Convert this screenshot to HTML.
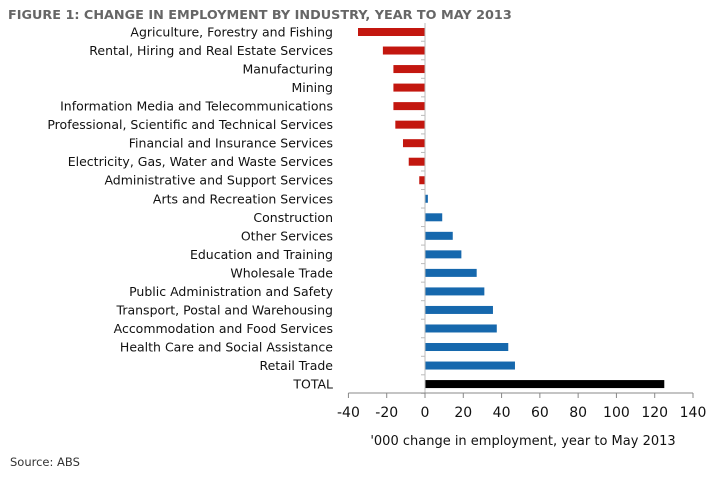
<!DOCTYPE html>
<html><head><meta charset="utf-8"><style>
body{margin:0;background:#fff;width:719px;height:478px;overflow:hidden}
svg{font-family:"DejaVu Sans","Liberation Sans",sans-serif}
</style></head><body>
<svg width="719" height="478">
<text x="8" y="19" font-size="12.8" font-weight="bold" fill="#666">FIGURE 1: CHANGE IN EMPLOYMENT BY INDUSTRY, YEAR TO MAY 2013</text>
<g id="bars"></g><g id="axis"></g>
<text x="523" y="445" font-size="13" text-anchor="middle" fill="#111">'000 change in employment, year to May 2013</text>
<text x="10" y="466" font-size="11.5" fill="#333">Source: ABS</text>
</svg>
<script>
const categories=["Agriculture, Forestry and Fishing","Rental, Hiring and Real Estate Services","Manufacturing","Mining","Information Media and Telecommunications","Professional, Scientific and Technical Services","Financial and Insurance Services","Electricity, Gas, Water and Waste Services","Administrative and Support Services","Arts and Recreation Services","Construction","Other Services","Education and Training","Wholesale Trade","Public Administration and Safety","Transport, Postal and Warehousing","Accommodation and Food Services","Health Care and Social Assistance","Retail Trade","TOTAL"];
const values=[-35,-22,-16.5,-16.5,-16.5,-15.5,-11.5,-8.5,-3,1.5,9,14.5,19,27,31,35.5,37.5,43.5,47,125];
const ticks=[-40,-20,0,20,40,60,80,100,120,140];
const NS="http://www.w3.org/2000/svg";
const x=v=>425+(v)*268/140;
const y=i=>32+i*18.53;
const bars=document.getElementById('bars'),axis=document.getElementById('axis');
function mk(tag,a,p){const e=document.createElementNS(NS,tag);for(const k in a)e.setAttribute(k,a[k]);p.appendChild(e);return e;}
categories.forEach((c,i)=>{
  const v=values[i];
  const col=i===categories.length-1?'#000':(v<0?'#c3170f':'#1668ad');
  const r=mk('rect',{x:Math.min(x(0),x(v)),y:y(i)-4,width:Math.abs(x(v)-x(0)),height:8,fill:col},bars);
  
  
  const t=mk('text',{x:333,y:y(i)+4.5,'font-size':'12.5','text-anchor':'end',fill:'#111'},bars);
  t.textContent=c;
  
  
  mk('line',{x1:x(0)-4,x2:x(0),y1:y(i)+9.26,y2:y(i)+9.26,stroke:'#bbb'},axis);
});
mk('line',{x1:x(0),x2:x(0),y1:23,y2:393,stroke:'#bbb'},axis);
mk('line',{x1:x(-40),x2:x(140),y1:393,y2:393,stroke:'#888'},axis);
ticks.forEach(tv=>{
  mk('line',{x1:x(tv),x2:x(tv),y1:393,y2:398,stroke:'#888'},axis);
  const t=mk('text',{x:x(tv),y:417,'font-size':'14','text-anchor':'middle',fill:'#111'},axis);
  t.textContent=tv;
  
  
});
</script>
</body></html>
